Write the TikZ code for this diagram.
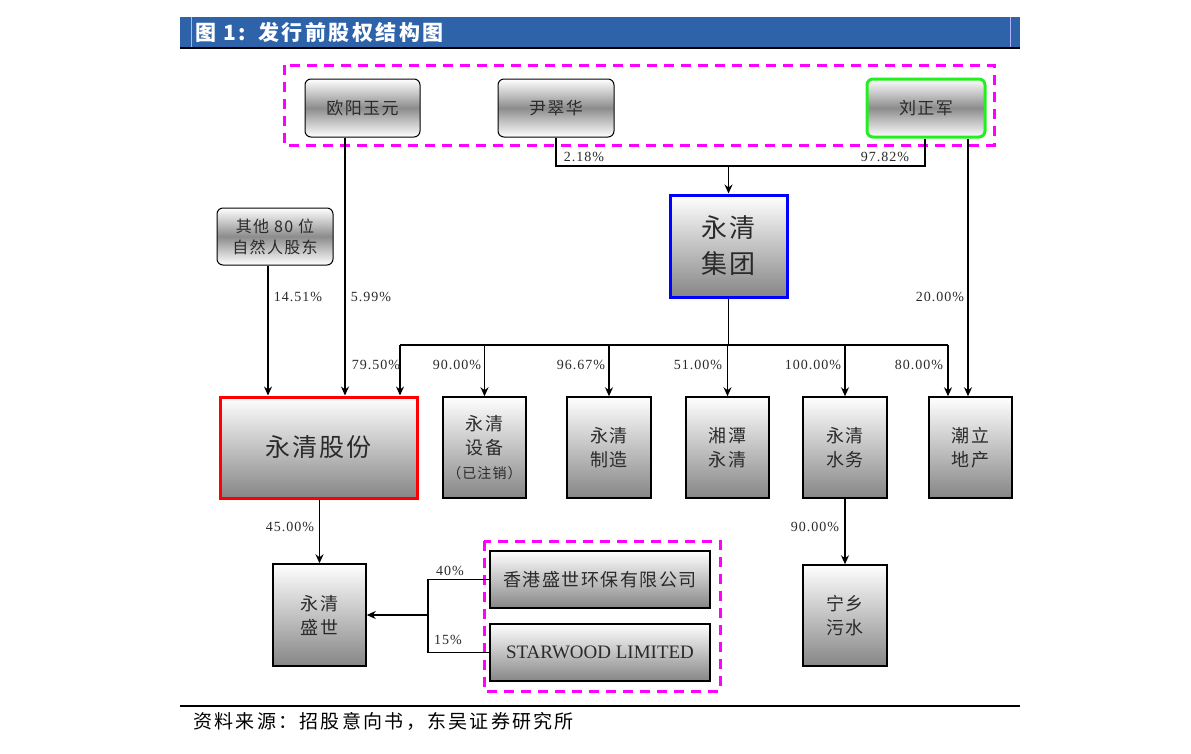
\documentclass[tikz,border=0pt]{standalone}
\usepackage{fontspec}
\setmainfont{Liberation Serif}
\newfontfamily\cjk[LetterSpace=8]{Noto Sans CJK SC}
\newfontfamily\cjkw[LetterSpace=12]{Noto Sans CJK SC}
\newfontfamily\pctfont[LetterSpace=7]{Liberation Serif}
\usetikzlibrary{arrows.meta}
\definecolor{titleblue}{HTML}{2E63A9}
\definecolor{mag}{HTML}{FF00FF}
\definecolor{lgreen}{HTML}{22EE22}
\definecolor{txt}{HTML}{2A2A2A}
\tikzset{
  box/.style={draw=black, line width=1.5pt, top color=white, bottom color=gray!95,
    inner sep=0pt, align=center, text=txt, font=\cjk\fontsize{18}{24}\selectfont},
  topbox/.style={draw=black, line width=1pt, rounded corners=6pt,
    top color=white, bottom color=white, middle color=gray!90,
    inner sep=0pt, align=center, text=txt, font=\cjk\fontsize{17}{22}\selectfont},
  conn/.style={line width=1.3pt, draw=black},
  arr/.style={conn, -{Stealth[length=9pt,width=8pt]}},
  pct/.style={font=\pctfont\fontsize{14}{16}\selectfont, text=txt, inner sep=0pt},
  grp/.style={draw=mag, line width=3pt, dash pattern=on 10pt off 7pt},
}
\begin{document}
\begin{tikzpicture}[x=1pt,y=-1pt]
\useasboundingbox (0,0) rectangle (1191,753);
% title bar
\fill[titleblue] (180,17) rectangle (1020,47);
\draw[blue!30!white, line width=0.6pt] (191,17) -- (191,47);
\draw[blue!30!white, line width=0.6pt] (1010,17) -- (1010,47);
\draw[black, line width=2pt] (180,48) -- (1020,48);
\node[anchor=west, text=white, font=\cjkw\bfseries\fontsize{21}{24}\selectfont, inner sep=0pt] (title) at (195,32) {图 1:\hspace{12pt}发行前股权结构图};
% footer
\draw[black, line width=2pt] (180,706) -- (1020,706);
\node[anchor=west, text=black, font=\cjkw\fontsize{19}{22}\selectfont, inner sep=0pt] (src) at (193,721) {资料来源：招股意向书，东吴证券研究所};

% dashed groups
\draw[grp] (284,65) rectangle (994,145);
\draw[grp] (484,541) rectangle (720,691);

% top nodes
\node[topbox, minimum width=115pt, minimum height=58pt] (ouyang) at (362.5,108) {欧阳玉元};
\node[topbox, minimum width=116pt, minimum height=58pt] (yin) at (556,108) {尹翠华};
\node[topbox, draw=lgreen, line width=3pt, minimum width=118pt, minimum height=58pt] (liu) at (926,108) {刘正军};
\node[topbox, minimum width=116pt, minimum height=57pt, font=\cjk\fontsize{16}{21}\selectfont] (oth) at (275,236.5) {其他 80 位\\自然人股东};
\node[box, draw=blue, line width=3pt, minimum width=117pt, minimum height=102pt, font=\cjk\fontsize{26}{36}\selectfont] (jt) at (728.5,246) {永清\\集团};

% middle row
\node[box, draw=red, line width=3pt, minimum width=197pt, minimum height=101pt, font=\cjk\fontsize{25}{30}\selectfont] (gf) at (318.5,447.5) {永清股份};
\node[box, minimum width=83pt, minimum height=101pt] (sb) at (484.5,447.5) {永清\\设备\\{\fontsize{14}{20}\selectfont（已注销）}};
\node[box, minimum width=84pt, minimum height=101pt] (zz) at (609,447.5) {永清\\制造};
\node[box, minimum width=83pt, minimum height=101pt] (xt) at (727.5,447.5) {湘潭\\永清};
\node[box, minimum width=84pt, minimum height=101pt] (sw) at (845,447.5) {永清\\水务};
\node[box, minimum width=83pt, minimum height=101pt] (cl) at (970.5,447.5) {潮立\\地产};

% bottom row
\node[box, minimum width=93pt, minimum height=102pt] (ss) at (319.5,615) {永清\\盛世};
\node[box, minimum width=84pt, minimum height=101pt] (nx) at (845,615.5) {宁乡\\污水};
\node[box, minimum width=220pt, minimum height=57pt] (hk) at (600,579.5) {香港盛世环保有限公司};
\node[box, minimum width=220pt, minimum height=57pt, font=\fontsize{19}{22}\selectfont] (star) at (600,652.5) {STARWOOD LIMITED};

% coordinates
\coordinate (bus1) at (728.5,166);
\coordinate (bus2) at (728.5,345);
\coordinate (jn) at (428,615);

% connectors
\draw[arr] ([xshift=-17.5pt]ouyang.south) -- ([xshift=26.5pt]gf.north);
\draw[arr] ([xshift=-7pt]oth.south) -- ([xshift=-50.5pt]gf.north);
\draw[conn] (yin.south) |- (bus1) -| ([xshift=-1pt]liu.south);
\draw[arr] (bus1) -- (jt.north);
\draw[arr] ([xshift=42pt]liu.south) -- ([xshift=-2.5pt]cl.north);
\draw[conn] (jt.south) -- (bus2);
\draw[conn] ([xshift=81.5pt]gf.north |- bus2) -- ([xshift=-22.5pt]cl.north |- bus2);
\draw[arr] ([xshift=81.5pt]gf.north |- bus2) -- ([xshift=81.5pt]gf.north);
\draw[arr] (sb.north |- bus2) -- (sb.north);
\draw[arr] (zz.north |- bus2) -- (zz.north);
\draw[arr] (xt.north |- bus2) -- (xt.north);
\draw[arr] (sw.north |- bus2) -- (sw.north);
\draw[arr] ([xshift=-22.5pt]cl.north |- bus2) -- ([xshift=-22.5pt]cl.north);
\draw[arr] (ss.north |- gf.south) -- (ss.north);
\draw[arr] (sw.south) -- (nx.north);
\draw[conn] (hk.west) -| (jn) |- (star.west);
\draw[arr] (jn) -- (ss.east);

% labels
\node[pct] (p1) at (584,157) {2.18\%};
\node[pct] (p2) at (885,157) {97.82\%};
\node[pct] (p3) at (298,297) {14.51\%};
\node[pct] (p4) at (371,297) {5.99\%};
\node[pct] (p5) at (940,297) {20.00\%};
\node[pct] (p6) at (376,365) {79.50\%};
\node[pct] (p7) at (457,365) {90.00\%};
\node[pct] (p8) at (581,365) {96.67\%};
\node[pct] (p9) at (698,365) {51.00\%};
\node[pct] (p10) at (813,365) {100.00\%};
\node[pct] (p11) at (919,365) {80.00\%};
\node[pct] (p12) at (290,527) {45.00\%};
\node[pct] (p13) at (815,527) {90.00\%};
\node[pct] (p14) at (450,571) {40\%};
\node[pct] (p15) at (448,640) {15\%};
\end{tikzpicture}
\end{document}
